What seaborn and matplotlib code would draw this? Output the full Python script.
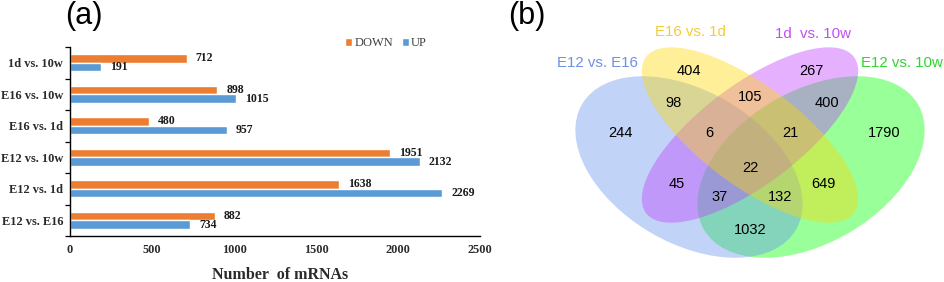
import pandas as pd
import matplotlib
matplotlib.use("Agg")
import matplotlib.pyplot as plt
from matplotlib.patches import Ellipse
from matplotlib.ticker import FixedLocator
import seaborn as sns

# panel (a): differentially expressed mRNAs per comparison
pairs = ["1d vs. 10w", "E16 vs. 10w", "E16 vs. 1d", "E12 vs. 10w", "E12 vs. 1d", "E12 vs. E16"]
down = [712, 898, 480, 1951, 1638, 882]
up = [191, 1015, 957, 2132, 2269, 734]
x_ticks = [0, 500, 1000, 1500, 2000, 2500]

# panel (b): 4-set venn
venn_sets = ["E12 vs. E16", "E16 vs. 1d", "1d  vs. 10w", "E12 vs. 10w"]
venn_counts = [244, 404, 267, 1790, 98, 105, 400, 6, 21, 22, 45, 649, 37, 132, 1032]

W, H = 944, 282
SERIF = "Liberation Serif"
SANS = "Liberation Sans"
ORANGE = "#ED7D31"
BLUE = "#5B9BD5"

sns.set_theme(style="white")
plt.rcParams["font.family"] = [SANS, "DejaVu Sans"]

fig = plt.figure(figsize=(W / 100, H / 100), dpi=100)

# ---------------- (a) bar chart ----------------
ax = fig.add_axes([70 / W, (H - 236) / H, 410 / W, 189 / H])
df = pd.DataFrame({
    "pair": pairs * 2,
    "count": down + up,
    "dir": ["DOWN"] * len(pairs) + ["UP"] * len(pairs),
})
sns.barplot(data=df, x="count", y="pair", hue="dir", order=pairs,
            hue_order=["DOWN", "UP"], palette=[ORANGE, BLUE], orient="h",
            width=0.54, saturation=1, ax=ax, errorbar=None)

for cont in ax.containers:
    ax.bar_label(cont, fmt="%d", padding=6.5, fontsize=8.5,
                 fontfamily=SERIF, fontweight="bold", color="#1a1a1a")

ax.set_xlim(0, 2500)
ax.set_ylim(5.5, -0.5)
ax.xaxis.set_major_locator(FixedLocator(x_ticks))
ax.tick_params(axis="x", length=0, pad=6)
ax.tick_params(axis="y", which="major", length=0, pad=5)
ax.yaxis.set_minor_locator(FixedLocator([i - 0.5 for i in range(len(pairs) + 1)]))
ax.tick_params(axis="y", which="minor", left=True, length=3.5, width=0.9,
               direction="out", color="black")
for lab in ax.get_xticklabels() + ax.get_yticklabels():
    lab.set_fontfamily(SERIF)
    lab.set_fontweight("bold")
    lab.set_color("#2a2a2a")
for lab in ax.get_xticklabels():
    lab.set_fontsize(8.8)
for lab in ax.get_yticklabels():
    lab.set_fontsize(8.9)

ax.set_ylabel("")
ax.set_xlabel("Number  of mRNAs", fontfamily=SERIF, fontweight="bold",
              fontsize=11.5, color="#2a2a2a")
ax.xaxis.label.set_va("baseline")
ax.xaxis.set_label_coords((280 - 70) / 410, -(279 - 236) / 189)
sns.despine(ax=ax)
for side in ("left", "bottom"):
    ax.spines[side].set_color("black")
    ax.spines[side].set_linewidth(1.0)

handles, labels = ax.get_legend_handles_labels()
ax.legend(handles, labels, loc="center", bbox_to_anchor=(386 / W, 1 - 43 / H),
          bbox_transform=fig.transFigure, ncol=2, frameon=False,
          handlelength=0.6, handleheight=0.6, handletextpad=0.15,
          columnspacing=0.7, borderpad=0,
          prop={"family": SERIF, "size": 9})
for t in ax.get_legend().get_texts():
    t.set_color("#404040")

fig.text(84 / W, 1 - 16 / H, "(a)", fontsize=22, ha="center", va="center",
         family=SANS, color="black")

# ---------------- (b) venn diagram ----------------
vx = fig.add_axes([480 / W, 0, (W - 480) / W, 1])
vx.set_xlim(480, W)
vx.set_ylim(H, 0)
vx.set_facecolor("none")
vx.axis("off")

# layout (image pixel frame): center, semi-axes, rotation
ell_layout = {
    "E12 vs. E16": ((689, 167), 124, 76, 30.4, "#6495ED"),
    "E16 vs. 1d": ((750, 135), 130, 50, 36.9, "#FFD700"),
    "1d  vs. 10w": ((750, 135), 130, 50, -36.9, "#BF3EFF"),
    "E12 vs. 10w": ((811, 167), 124, 76, -30.4, "#00FF00"),
}
draw_order = ["E12 vs. 10w", "E12 vs. E16", "1d  vs. 10w", "E16 vs. 1d"]
for name in draw_order:
    (cx, cy), a, b, ang, col = ell_layout[name]
    vx.add_patch(Ellipse((cx, cy), 2 * a, 2 * b, angle=ang, facecolor=col,
                         edgecolor="none", alpha=0.4))

label_layout = {
    "E12 vs. E16": ((597, 63), "#6F8FE6"),
    "E16 vs. 1d": ((690, 32), "#F2CC3A"),
    "1d  vs. 10w": ((813, 34), "#C04FF0"),
    "E12 vs. 10w": ((902, 63), "#2FD52F"),
}
for name in venn_sets:
    (lx, ly), col = label_layout[name]
    vx.text(lx, ly, name, ha="center", va="center", fontsize=10.8, color=col)

region_xy = [(620, 133), (689, 71), (811, 71), (884, 133), (673, 103),
             (750, 97), (827, 103), (709, 133), (790, 133), (750, 168),
             (677, 184), (823, 184), (720, 197), (780, 197), (750, 230)]
for n, (rx, ry) in zip(venn_counts, region_xy):
    vx.text(rx, ry, str(n), ha="center", va="center", fontsize=10.5, color="black")

fig.text(527 / W, 1 - 16 / H, "(b)", fontsize=22, ha="center", va="center",
         family=SANS, color="black")

fig.savefig("out.png", dpi=100)
plt.close(fig)
